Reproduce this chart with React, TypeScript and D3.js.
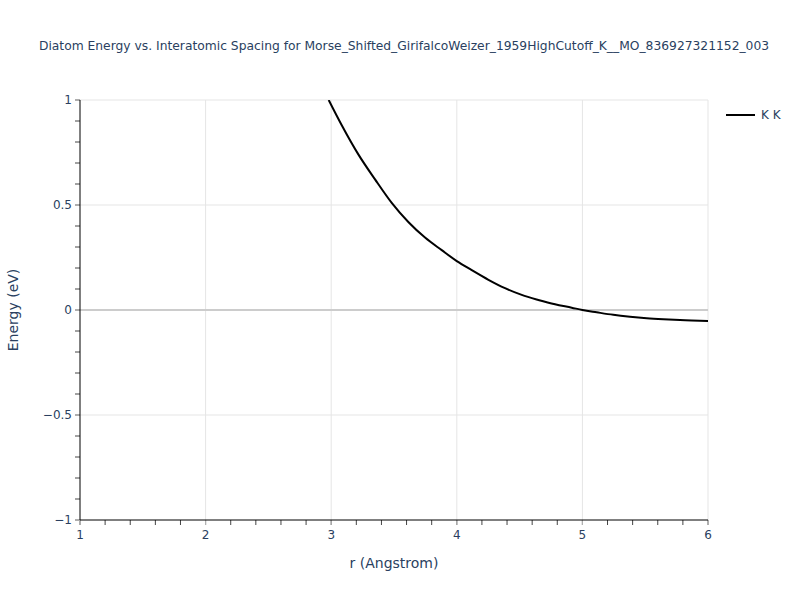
import React from "react";
import * as d3 from "d3";

const rValues = [2.98, 3.083, 3.216, 3.349, 3.482, 3.614, 3.747, 3.88, 4.0, 4.119, 4.252, 4.384, 4.517, 4.649, 4.782, 4.915, 5.0, 5.114, 5.246, 5.379, 5.512, 5.644, 5.777, 6.0];
const energyValues = [1.0, 0.881, 0.741, 0.622, 0.51, 0.419, 0.345, 0.285, 0.233, 0.19, 0.144, 0.104, 0.072, 0.048, 0.027, 0.011, 0.0, -0.011, -0.023, -0.032, -0.039, -0.044, -0.048, -0.052];
const xTicks = [1, 2, 3, 4, 5, 6];
const yTicks = [-1, -0.5, 0, 0.5, 1];
const seriesName = "K K";
const title = "Diatom Energy vs. Interatomic Spacing for Morse_Shifted_GirifalcoWeizer_1959HighCutoff_K__MO_836927321152_003";

export default function App() {
  const W = 800, H = 600;
  const left = 80, right = 708, top = 100, bottom = 520;
  const x = d3.scaleLinear().domain([1, 6]).range([left, right]);
  const y = d3.scaleLinear().domain([-1, 1]).range([bottom, top]);
  const pts = rValues.map((r, i) => [r, energyValues[i]] as [number, number]);
  const line = d3.line<[number, number]>().x(d => x(d[0])).y(d => y(d[1])).curve(d3.curveMonotoneX);
  const xMinor = d3.range(1, 6.001, 0.2);
  const yMinor = d3.range(-1, 1.001, 0.1);
  const font = "'DejaVu Sans', Verdana, sans-serif";
  const fmt = (v: number) => (v < 0 ? "\u2212" + Math.abs(v) : String(v));
  return (
    <svg width={W} height={H} style={{ position: "absolute", left: 0, top: 0, background: "#fff" }} fontFamily={font}>
      <defs>
        <clipPath id="clip"><rect x={left} y={top} width={right - left} height={bottom - top} /></clipPath>
      </defs>
      {xTicks.slice(1).map(t => (
        <line key={"gx" + t} x1={x(t)} x2={x(t)} y1={top} y2={bottom} stroke="#e5e5e5" strokeWidth={1} />
      ))}
      {yTicks.filter(t => t !== 0 && t !== -1).map(t => (
        <line key={"gy" + t} x1={left} x2={right} y1={y(t)} y2={y(t)} stroke="#e5e5e5" strokeWidth={1} />
      ))}
      <line x1={left} x2={right} y1={y(0)} y2={y(0)} stroke="#cccccc" strokeWidth={2} />
      {xMinor.map(t => (
        <line key={"mx" + t} x1={x(t)} x2={x(t)} y1={bottom} y2={bottom + 5} stroke="#444" strokeWidth={1} />
      ))}
      {yMinor.map(t => (
        <line key={"my" + t} x1={left - 5} x2={left} y1={y(t)} y2={y(t)} stroke="#444" strokeWidth={1} />
      ))}
      {xTicks.map(t => (
        <g key={"tx" + t}>
          <line x1={x(t)} x2={x(t)} y1={bottom} y2={bottom + 5} stroke="#bbb" strokeWidth={1} />
          <text x={x(t)} y={bottom + 19} textAnchor="middle" fontSize={12} fill="#2a3f5f">{t}</text>
        </g>
      ))}
      {yTicks.map(t => (
        <g key={"ty" + t}>
          <line x1={left - 5} x2={left} y1={y(t)} y2={y(t)} stroke="#bbb" strokeWidth={1} />
          <text x={left - 8} y={y(t) + 4} textAnchor="end" fontSize={12} fill="#2a3f5f">{fmt(t)}</text>
        </g>
      ))}
      <line x1={left} x2={left} y1={top} y2={bottom} stroke="#000" strokeWidth={1} />
      <line x1={left} x2={right} y1={bottom} y2={bottom} stroke="#000" strokeWidth={1} />
      <path d={line(pts) || ""} fill="none" stroke="#000" strokeWidth={2} clipPath="url(#clip)" />
      <text x={404} y={50} textAnchor="middle" fontSize={12.3} fill="#2a3f5f">{title}</text>
      <text x={394} y={568} textAnchor="middle" fontSize={14} fill="#2a3f5f">r (Angstrom)</text>
      <text transform={`translate(18,${(top + bottom) / 2}) rotate(-90)`} textAnchor="middle" fontSize={14} fill="#2a3f5f">Energy (eV)</text>
      <line x1={726} x2={755} y1={115} y2={115} stroke="#000" strokeWidth={2} />
      <text x={761} y={119} fontSize={12} fill="#2a3f5f">{seriesName}</text>
    </svg>
  );
}
